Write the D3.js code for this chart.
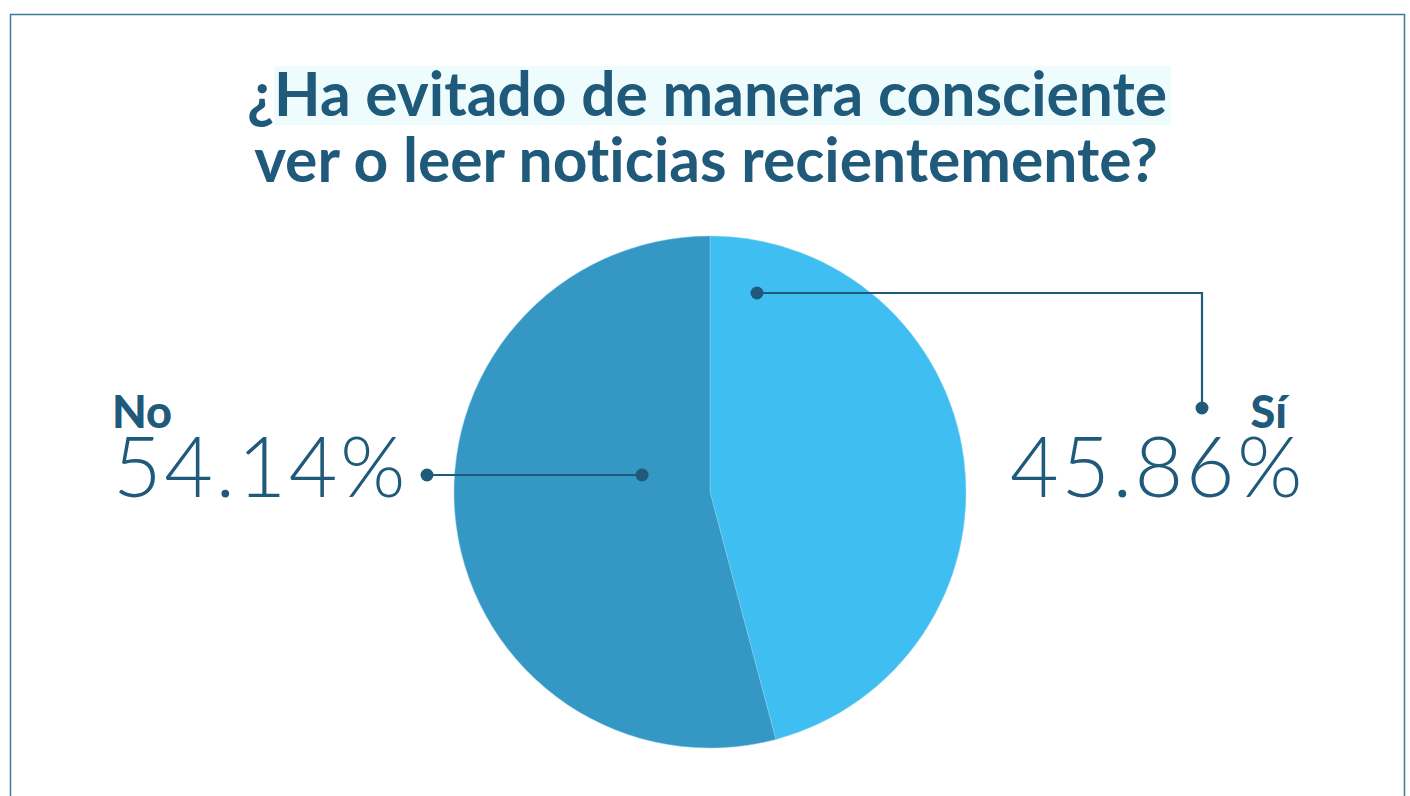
<!DOCTYPE html>
<html>
<head>
<meta charset="utf-8">
<script src="https://cdn.jsdelivr.net/npm/d3@7"></script>
<style>
  body { margin: 0; background: #fff; }
  svg { display: block; font-family: Lato, "Open Sans", sans-serif; font-variant-ligatures: none; }
</style>
</head>
<body>
<script>
// chart data
var categories = ["Sí", "No"];
var values = [45.86, 54.14];
var colors = ["#3ebef1", "#3597c3"];
var titleLines = ["¿Ha evitado de manera consciente", "ver o leer noticias recientemente?"];

var width = 1410;
var height = 796;
var cx = 710, cy = 492, radius = 256;
var ink = "#1f5a7a";

var svg = d3.select("body")
  .append("svg")
    .attr("width", width)
    .attr("height", height);

// frame
svg.append("rect")
  .attr("x", 10.5)
  .attr("y", 14.5)
  .attr("width", 1394)
  .attr("height", 820)
  .attr("fill", "none")
  .attr("stroke", "#3f7b98")
  .attr("stroke-width", 1.5);

// title, first line with a pale highlight behind the words
var highlight = svg.append("rect").attr("fill", "#eefcfd");

var title = svg.append("g")
  .attr("font-size", 60.5)
  .attr("font-weight", 700)
  .attr("fill", ink)
  .attr("text-anchor", "middle");

var line1 = title.append("text")
  .attr("x", 707)
  .attr("y", 116)
  .text(titleLines[0]);

title.append("text")
  .attr("x", 706)
  .attr("y", 182)
  .text(titleLines[1]);

var node = line1.node();
var startX = node.getStartPositionOfChar(1).x;
var subLen = node.getSubStringLength(1, titleLines[0].length - 1);
highlight
  .attr("x", startX)
  .attr("y", 66)
  .attr("width", subLen + 4)
  .attr("height", 59);

// pie
var pie = d3.pie().sort(null).value(function(d) { return d; });
var arc = d3.arc().innerRadius(0).outerRadius(radius);
var arcs = pie(values);

var g = svg.append("g").attr("transform", "translate(" + cx + "," + cy + ")");

g.selectAll("path")
  .data(arcs)
  .enter()
  .append("path")
    .attr("d", arc)
    .attr("fill", function(d, i) { return colors[i]; })
    .attr("stroke", "#8fd3ee")
    .attr("stroke-width", 0.8)
    .attr("stroke-opacity", 0.6);

// callouts (positions relative to pie centre)
var callouts = [
  { points: [[47, -199], [492, -199], [492, -84]], label: [577, -64], value: [595, 5], anchor: "end" },
  { points: [[-68, -17], [-283, -17]], label: [-598, -64], value: [-597, 5], anchor: "start" }
];

var fmt = function(v) { return v.toFixed(2) + "%"; };

callouts.forEach(function(c, i) {
  var line = d3.line();
  g.append("path")
    .attr("d", line(c.points))
    .attr("fill", "none")
    .attr("stroke", ink)
    .attr("stroke-width", 2.2);

  [c.points[0], c.points[c.points.length - 1]].forEach(function(p) {
    g.append("circle")
      .attr("cx", p[0])
      .attr("cy", p[1])
      .attr("r", 6.5)
      .attr("fill", ink);
  });

  g.append("text")
    .attr("x", c.label[0])
    .attr("y", c.label[1])
    .attr("text-anchor", c.anchor)
    .attr("font-size", 45)
    .attr("font-weight", 900)
    .attr("fill", ink)
    .text(categories[i]);

  g.append("text")
    .attr("x", c.value[0])
    .attr("y", c.value[1])
    .attr("text-anchor", c.anchor)
    .attr("font-size", 84)
    .attr("font-weight", 300)
    .attr("letter-spacing", 2.5)
    .attr("fill", ink)
    .text(fmt(values[i]));
});
</script>
</body>
</html>
